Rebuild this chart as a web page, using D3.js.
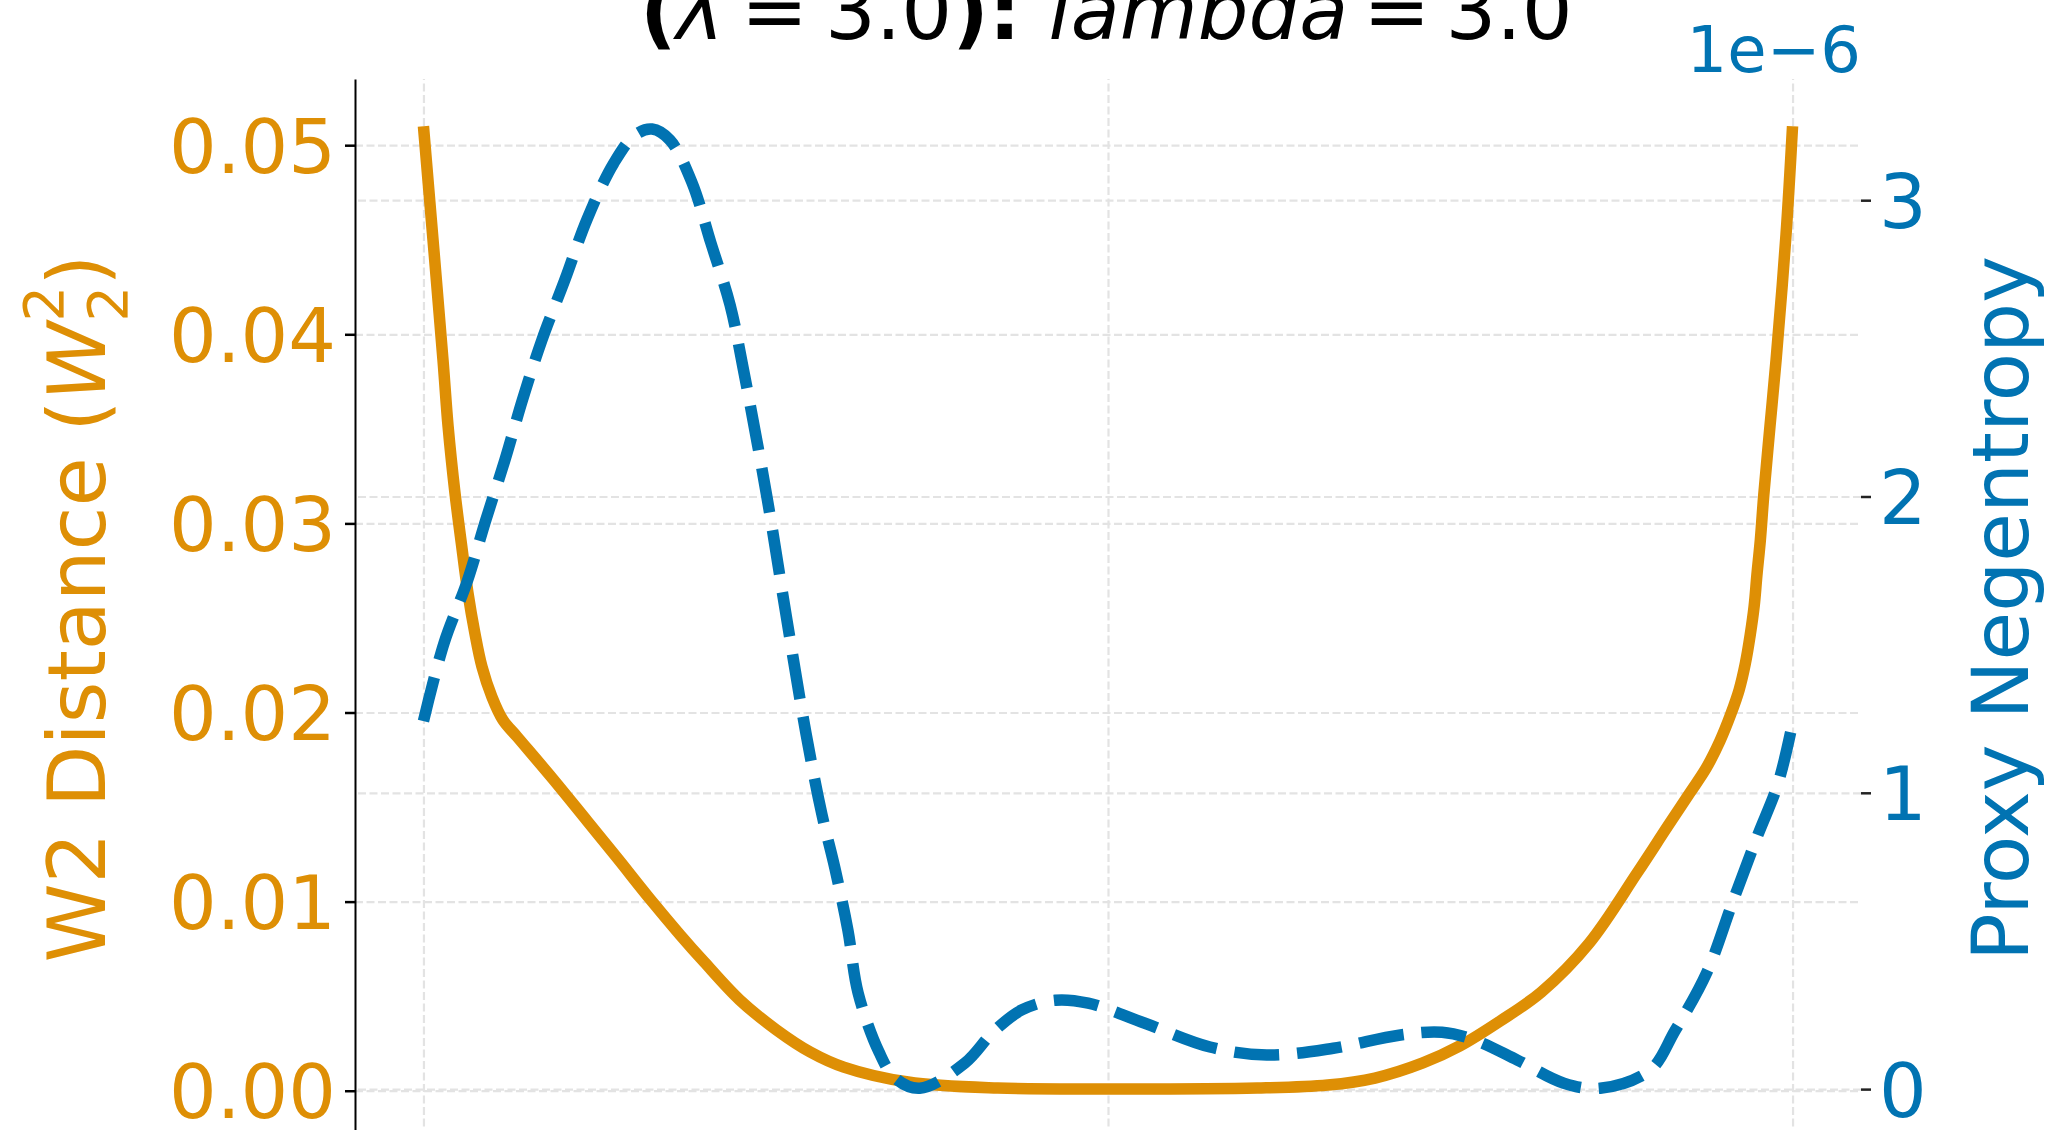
<!DOCTYPE html>
<html>
<head>
<meta charset="utf-8">
<script src="https://cdn.jsdelivr.net/npm/d3@7"></script>
<style>
  html, body { margin: 0; padding: 0; background: #ffffff; }
  svg { display: block; }
</style>
</head>
<body>
<svg id="chart" width="2055" height="1130"></svg>
<script>
// ---------------- data ----------------
// W2 distance (left axis)
const xW2 = [-1.000, -0.9715, -0.964, -0.954, -0.944, -0.935, -0.925, -0.9145, -0.900, -0.884,
             -0.863, -0.811, -0.761, -0.717, -0.668, -0.625, -0.590, -0.538, -0.484, -0.435,
             -0.386, -0.292, -0.161, 0.012, 0.218, 0.321, 0.390, 0.460, 0.514, 0.573,
              0.633, 0.703, 0.773, 0.817, 0.850, 0.874, 0.894, 0.910, 0.922, 0.931,
              0.938, 0.944, 0.948, 0.953, 0.958, 0.967, 0.976, 0.9905, 1.000];
const w2 = [0.0510, 0.03866, 0.03512, 0.03162, 0.02877, 0.02633, 0.02422, 0.02242, 0.02083, 0.01961,
            0.01871, 0.01649, 0.01427, 0.01231, 0.01009, 0.00824, 0.00681, 0.0048, 0.00321, 0.00205,
            0.00125, 0.00046, 0.00014, 0.00009, 0.00014, 0.0003, 0.00067, 0.00147, 0.00237, 0.00369,
            0.00522, 0.00781, 0.01152, 0.01395, 0.01575, 0.01707, 0.01850, 0.01993, 0.02120, 0.02258,
            0.02406, 0.02565, 0.02729, 0.02914, 0.03152, 0.03512, 0.03866, 0.04528, 0.0510];

// Proxy negentropy (right axis), in units of 1e-6
const xNeg = [-1.000, -0.970, -0.936, -0.909, -0.881, -0.855, -0.827, -0.793, -0.761, -0.722,
              -0.691, -0.666, -0.640, -0.608, -0.580, -0.552, -0.533, -0.498, -0.470, -0.441,
              -0.418, -0.399, -0.380, -0.365, -0.3345, -0.311, -0.275, -0.209, -0.168, -0.126,
              -0.077, -0.029, 0.053, 0.149, 0.232, 0.329, 0.425, 0.488, 0.536, 0.598,
               0.666, 0.719, 0.792, 0.828, 0.875, 0.912, 0.948, 0.979, 1.000];
const negentropy = [1.242, 1.505, 1.714, 1.920, 2.123, 2.329, 2.528, 2.734, 2.936, 3.125,
                    3.220, 3.240, 3.203, 3.061, 2.855, 2.646, 2.433, 1.995, 1.596, 1.198,
                    0.928, 0.746, 0.537, 0.324, 0.125, 0.037, 0.003, 0.088, 0.192, 0.267,
                    0.300, 0.290, 0.223, 0.142, 0.115, 0.138, 0.182, 0.192, 0.165, 0.098,
                    0.020, 0.003, 0.064, 0.196, 0.395, 0.628, 0.850, 1.033, 1.235];

const xTicks = [-1, 0, 1];
const w2Ticks = [0, 0.01, 0.02, 0.03, 0.04, 0.05];
const negTicks = [0, 1, 2, 3];
const negOffsetLabel = "1e\u22126";
const leftLabel = "W2 Distance (";
const rightLabel = "Proxy Negentropy";

// ---------------- styling ----------------
const ORANGE = "#de8f05";
const BLUE = "#0173b2";
const FONT = "DejaVu Sans";
const GRID = "#e3e3e3";
const LW = 11.5;

const M = { left: 355, right: 1861, top: 79, bottom: 1138 };

const svg = d3.select("#chart");
svg.append("rect").attr("width", 2055).attr("height", 1130).attr("fill", "#ffffff");

const x = d3.scaleLinear().domain([-1.1, 1.1]).range([M.left, M.right]);
const yL = d3.scaleLinear().domain([-0.0025, 0.0535]).range([M.bottom, M.top]);
const yR = d3.scaleLinear().domain([-0.165, 3.409]).range([M.bottom, M.top]);

// ---------------- grid ----------------
function styleGrid(g) {
  g.select(".domain").remove();
  g.selectAll(".tick text").remove();
  g.selectAll(".tick line")
    .attr("stroke", GRID)
    .attr("stroke-width", 2.2)
    .attr("stroke-dasharray", "8,3.5");
}
svg.append("g").attr("transform", `translate(0,${M.bottom})`)
  .call(d3.axisBottom(x).tickValues(xTicks).tickSize(-(M.bottom - M.top)).tickFormat(""))
  .call(styleGrid);
svg.append("g").attr("transform", `translate(${M.left},0)`)
  .call(d3.axisLeft(yL).tickValues(w2Ticks).tickSize(-(M.right - M.left)).tickFormat(""))
  .call(styleGrid);
svg.append("g").attr("transform", `translate(${M.right},0)`)
  .call(d3.axisRight(yR).tickValues(negTicks).tickSize(-(M.right - M.left)).tickFormat(""))
  .call(styleGrid);

// ---------------- lines ----------------
const lineW2 = d3.line().x(d => x(d[0])).y(d => yL(d[1])).curve(d3.curveCatmullRom.alpha(0.5));
const lineNeg = d3.line().x(d => x(d[0])).y(d => yR(d[1])).curve(d3.curveCatmullRom.alpha(0.5));

svg.append("path")
  .datum(d3.zip(xW2, w2))
  .attr("d", lineW2)
  .attr("fill", "none")
  .attr("stroke", ORANGE)
  .attr("stroke-width", LW)
  .attr("stroke-linecap", "butt")
  .attr("stroke-linejoin", "round");

svg.append("path")
  .datum(d3.zip(xNeg, negentropy))
  .attr("d", lineNeg)
  .attr("fill", "none")
  .attr("stroke", BLUE)
  .attr("stroke-width", LW)
  .attr("stroke-dasharray", "45,18")
  .attr("stroke-linecap", "butt")
  .attr("stroke-linejoin", "round");

// ---------------- axes ----------------
const axL = svg.append("g").attr("transform", `translate(${M.left},0)`)
  .call(d3.axisLeft(yL).tickValues(w2Ticks).tickSize(10).tickSizeOuter(0).tickPadding(9)
        .tickFormat(d3.format(".2f")));
axL.select(".domain").attr("stroke", "#000").attr("stroke-width", 2);
axL.selectAll(".tick line").attr("stroke", "#000").attr("stroke-width", 2.5);
axL.selectAll(".tick text")
  .attr("font-family", FONT).attr("font-size", 75).attr("fill", ORANGE).attr("dy", "0.36em");

const axR = svg.append("g").attr("transform", `translate(${M.right},0)`)
  .call(d3.axisRight(yR).tickValues(negTicks).tickSize(10).tickSizeOuter(0).tickPadding(8)
        .tickFormat(d3.format("d")));
axR.select(".domain").remove();
axR.selectAll(".tick line").attr("stroke", "#222").attr("stroke-width", 2.5);
axR.selectAll(".tick text")
  .attr("font-family", FONT).attr("font-size", 75).attr("fill", BLUE).attr("dy", "0.36em");

// bottom axis lies below the visible crop (tick labels not shown in the reference)
const axB = svg.append("g").attr("transform", `translate(0,${M.bottom})`)
  .call(d3.axisBottom(x).tickValues(xTicks).tickSize(10).tickSizeOuter(0).tickFormat(""));
axB.select(".domain").attr("stroke", "#000").attr("stroke-width", 2);
axB.selectAll(".tick line").attr("stroke", "#000").attr("stroke-width", 2.5);
axB.selectAll(".tick text").remove();

// offset text for right axis
svg.append("text")
  .attr("x", M.right).attr("y", 72)
  .attr("text-anchor", "end")
  .attr("font-family", FONT).attr("font-size", 64).attr("fill", BLUE)
  .text(negOffsetLabel);

// ---------------- axis labels ----------------
const ll = svg.append("text")
  .attr("transform", `translate(105,${(M.top + M.bottom) / 2}) rotate(-90)`)
  .attr("x", -354).attr("y", 0)
  .attr("font-family", FONT).attr("font-size", 80).attr("fill", ORANGE);
ll.append("tspan").text(leftLabel);
ll.append("tspan").attr("font-style", "italic").text("W");
ll.append("tspan").attr("font-size", 56).attr("dy", 22).text("2");
ll.append("tspan").attr("font-size", 56).attr("dx", -35.6).attr("dy", -64).text("2");
ll.append("tspan").attr("dy", 42).text(")");

svg.append("text")
  .attr("transform", `translate(2028,${(M.top + M.bottom) / 2}) rotate(-90)`)
  .attr("text-anchor", "middle")
  .attr("font-family", FONT).attr("font-size", 79).attr("fill", BLUE)
  .text(rightLabel);

// ---------------- title (second line of the title, first line cropped) ----------------
const t = svg.append("text")
  .attr("x", 640).attr("y", 39)
  .attr("font-family", FONT).attr("font-size", 80).attr("fill", "#000");
t.append("tspan").attr("font-weight", "bold").text("(");
t.append("tspan").attr("font-style", "italic").text("\u03bb");
t.append("tspan").attr("dx", 17).text("=");
t.append("tspan").attr("dx", 17).text("3.0");
t.append("tspan").attr("font-weight", "bold").text("): ");
t.append("tspan").attr("font-style", "italic").text("lambda");
t.append("tspan").attr("dx", 15).text("=");
t.append("tspan").attr("dx", 15).text("3.0");
</script>
</body>
</html>
